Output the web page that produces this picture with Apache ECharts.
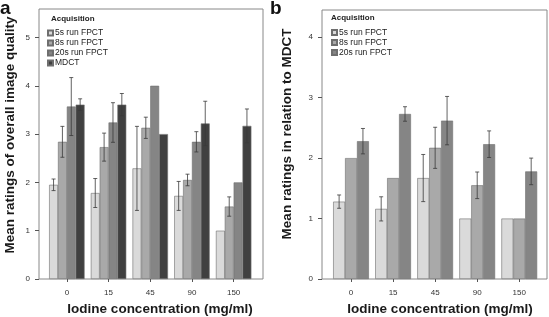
<!DOCTYPE html>
<html><head><meta charset="utf-8">
<script src="https://cdn.jsdelivr.net/npm/echarts@6/dist/echarts.min.js"></script>
<style>html,body{margin:0;padding:0;background:#fff}#c{width:549px;height:317px}</style>
</head><body><div id="c"></div>
<script>
// ---- data ----
const categories = ['0', '15', '45', '90', '150'];
const namesA = ['5s run FPCT', '8s run FPCT', '20s run FPCT', 'MDCT'];
const namesB = ['5s run FPCT', '8s run FPCT', '20s run FPCT'];
const yTicksA = [0, 1, 2, 3, 4, 5];
const yTicksB = [0, 1, 2, 3, 4];
const xTitle = 'Iodine concentration (mg/ml)';
const yTitleA = 'Mean ratings of overall image quality';
const yTitleB = 'Mean ratings in relation to MDCT';

// Panel a: mean ratings of overall image quality
const a5s = [1.95, 1.78, 2.29, 1.72, 1.00];
const a5sErr = [0.12, 0.30, 0.87, 0.30, 0];
const a8s = [2.84, 2.73, 3.13, 2.05, 1.50];
const a8sErr = [0.32, 0.29, 0.22, 0.12, 0.20];
const a20s = [3.57, 3.24, 4.00, 2.84, 2.00];
const a20sErr = [0.60, 0.41, 0, 0.21, 0];
const aMDCT = [3.61, 3.61, 3.00, 3.22, 3.17];
const aMDCTErr = [0.12, 0.23, 0, 0.46, 0.35];

// Panel b: mean ratings in relation to MDCT
const b5s = [1.28, 1.16, 1.67, 1.00, 1.00];
const b5sErr = [0.11, 0.20, 0.39, 0, 0];
const b8s = [2.00, 1.67, 2.17, 1.55, 1.00];
const b8sErr = [0, 0, 0.34, 0.22, 0];
const b20s = [2.28, 2.73, 2.62, 2.23, 1.78];
const b20sErr = [0.21, 0.12, 0.40, 0.22, 0.22];

const colors = ['#dadada', '#a9a9a9', '#858585', '#404040'];
const FONT = '"Liberation Sans", Arial, sans-serif';

const chart = echarts.init(document.getElementById('c'));

function bars(names, means, xi) {
  return names.map((n, i) => ({
    name: n, type: 'bar', xAxisIndex: xi, yAxisIndex: xi, data: means[i],
    barGap: '0%', barCategoryGap: '15%',
    itemStyle: { color: colors[i], borderColor: '#6e6e6e', borderWidth: 0.6 },
    emphasis: { disabled: true }
  }));
}

function errSeries(means, errs, xi) {
  const n = means.length;
  const data = [];
  means.forEach((m, si) => m.forEach((v, ci) => {
    if (errs[si][ci] > 0) data.push([ci, v - errs[si][ci], v + errs[si][ci], si]);
  }));
  return {
    type: 'custom', xAxisIndex: xi, yAxisIndex: xi, data: data, z: 10, silent: true,
    encode: { x: 0, y: [1, 2] },
    renderItem: function (params, api) {
      const ci = api.value(0), lo = api.value(1), hi = api.value(2), si = api.value(3);
      const band = api.size([1, 0])[0];
      const bw = band * 0.85 / n;
      const p = api.coord([ci, lo]);
      const cx = p[0] + (si - (n - 1) / 2) * bw;
      const yl = p[1], yh = api.coord([ci, hi])[1];
      const c = 2;
      const st = { stroke: '#3a3a3a', lineWidth: 0.8 };
      return { type: 'group', children: [
        { type: 'line', shape: { x1: cx, y1: yl, x2: cx, y2: yh }, style: st },
        { type: 'line', shape: { x1: cx - c, y1: yl, x2: cx + c, y2: yl }, style: st },
        { type: 'line', shape: { x1: cx - c, y1: yh, x2: cx + c, y2: yh }, style: st }
      ]};
    }
  };
}

const hiddenAxis = (gi) => ({ type: 'value', gridIndex: gi, show: false, min: 0, max: 1 });

function dataX(gi) {
  return {
    type: 'category', gridIndex: gi, data: categories,
    axisLine: { show: false },
    axisTick: { show: true, alignWithLabel: true, length: 3, lineStyle: { color: '#555' } },
    axisLabel: { fontSize: 8, color: '#333', margin: 10, fontFamily: FONT }
  };
}
function dataY(gi, max, ticks, offset) {
  return {
    type: 'value', gridIndex: gi, min: 0, max: max, offset: offset,
    splitLine: { show: false },
    axisLine: { show: false },
    axisTick: { show: true, length: 4, customValues: ticks, lineStyle: { color: '#555' } },
    axisLabel: { fontSize: 8, color: '#333', margin: 9, customValues: ticks, fontFamily: FONT }
  };
}
const titleFont = { fontSize: 13.5, fontWeight: 'bold', fill: '#1a1a1a', fontFamily: FONT, align: 'center', verticalAlign: 'middle' };
function legendCfg(names, left, top) {
  return { data: names, orient: 'vertical', left: left, top: top, itemWidth: 5, itemHeight: 5, itemGap: 1,
    icon: 'rect', selectedMode: false,
    textStyle: { fontSize: 8.5, color: '#222', lineHeight: 7.5, padding: [0, 0, 0, -3], fontFamily: FONT } };
}

const option = {
  animation: false,
  backgroundColor: '#fff',
  title: [
    { text: 'a', left: -5, top: -6, textStyle: { fontSize: 19, fontWeight: 'bold', color: '#111', fontFamily: FONT } },
    { text: 'b', left: 265, top: -6, textStyle: { fontSize: 19, fontWeight: 'bold', color: '#111', fontFamily: FONT } },
    { text: 'Acquisition', left: 46, top: 10, textStyle: { fontSize: 8, fontWeight: 'bold', color: '#222', fontFamily: FONT } },
    { text: 'Acquisition', left: 326, top: 9, textStyle: { fontSize: 8, fontWeight: 'bold', color: '#222', fontFamily: FONT } }
  ],
  legend: [legendCfg(namesA, 42, 23.5), legendCfg(namesB, 326, 23)],
  graphic: [
    { type: 'text', x: 10, y: 135, rotation: Math.PI / 2, style: Object.assign({ text: yTitleA }, titleFont) },
    { type: 'text', x: 287, y: 134, rotation: Math.PI / 2, style: Object.assign({ text: yTitleB }, titleFont) },
    { type: 'text', x: 160, y: 309, style: Object.assign({ text: xTitle }, titleFont) },
    { type: 'text', x: 440, y: 309, style: Object.assign({ text: xTitle }, titleFont) }
  ],
  grid: [
    { left: 39, top: 9, width: 224, height: 270, show: true, borderColor: '#888', borderWidth: 1, backgroundColor: 'transparent' },
    { left: 46, right: 294.5, top: 8.5, bottom: 38 },
    { left: 322, top: 10, width: 225, height: 269, show: true, borderColor: '#888', borderWidth: 1, backgroundColor: 'transparent' },
    { left: 330, right: 8.7, top: 10, bottom: 38 }
  ],
  xAxis: [hiddenAxis(0), dataX(1), hiddenAxis(2), dataX(3)],
  yAxis: [hiddenAxis(0), dataY(1, 5.6, yTicksA, 7), hiddenAxis(2), dataY(3, 4.45, yTicksB, 8)],
  series: [
    ...bars(namesA, [a5s, a8s, a20s, aMDCT], 1),
    errSeries([a5s, a8s, a20s, aMDCT], [a5sErr, a8sErr, a20sErr, aMDCTErr], 1),
    ...bars(namesB, [b5s, b8s, b20s], 3),
    errSeries([b5s, b8s, b20s], [b5sErr, b8sErr, b20sErr], 3)
  ]
};
chart.setOption(option);
</script></body></html>
